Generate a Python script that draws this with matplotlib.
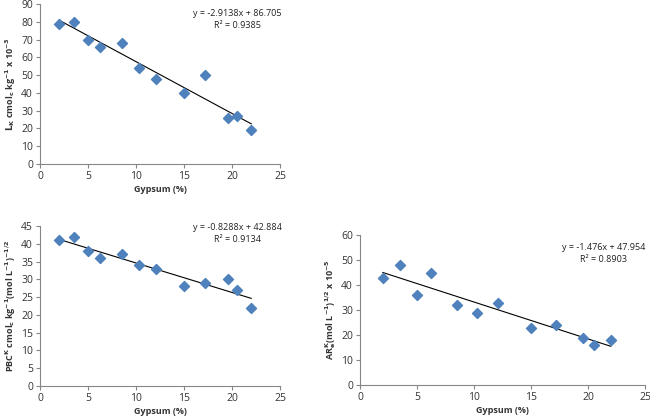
import matplotlib
matplotlib.use("Agg")
import matplotlib.pyplot as plt
import numpy as np

plt.rcParams['font.family'] = ['Open Sans', 'DejaVu Sans']

# data
gypsum = [2, 3.5, 5, 6.2, 8.5, 10.3, 12.1, 15, 17.2, 19.6, 20.5, 22]
lk = [79, 80, 70, 66, 68, 54, 48, 40, 50, 26, 27, 19]
pbc = [41, 42, 38, 36, 37, 34, 33, 28, 29, 30, 27, 22]
ar = [43, 48, 36, 45, 32, 29, 33, 23, 24, 19, 16, 18]

fits = [(-2.9138, 86.705, 0.9385), (-0.8288, 42.884, 0.9134), (-1.476, 47.954, 0.8903)]

color = '#4F81BD'
fig = plt.figure(figsize=(6.5, 4.2), dpi=100)

# axes in pixel positions (left, top, right, bottom)
boxes = [(40, 4, 280, 164), (40, 226, 280, 386), (360, 235, 645, 385)]
ylabels = [r'$\mathbf{L_K}$ cmol$_\mathbf{c}$ kg$^{\mathbf{-1}}$ x 10$^{\mathbf{-3}}$',
           r'PBC$^{\mathbf{K}}$ cmol$_\mathbf{c}$ kg$^{\mathbf{-1}}$(mol L$^{\mathbf{-1}}$)$^{\mathbf{-1/2}}$',
           r'AR$^{\mathbf{K}}_{\mathbf{e}}$(mol L$^{\mathbf{-1}}$)$^{\mathbf{1/2}}$ x 10$^{\mathbf{-5}}$']
ylims = [(0, 90, 10), (0, 45, 5), (0, 60, 10)]
series = [lk, pbc, ar]
eq_pos = [(237, 13), (237, 227), (604, 247)]

for i in range(3):
    l, t, r, b = boxes[i]
    ax = fig.add_axes([l / 650, 1 - b / 420, (r - l) / 650, (b - t) / 420])
    ax.scatter(gypsum, series[i], marker='D', s=26, color=color, zorder=3)
    m, c, r2 = fits[i]
    xs = np.array([2, 22])
    ax.plot(xs, m * xs + c, color='black', lw=0.8)
    ax.set_xlim(0, 25)
    ax.set_xticks(range(0, 26, 5))
    ax.set_ylim(ylims[i][0], ylims[i][1])
    ax.set_yticks(range(0, ylims[i][1] + 1, ylims[i][2]))
    for s in ['top', 'right']:
        ax.spines[s].set_visible(False)
    for s in ['left', 'bottom']:
        ax.spines[s].set_color('#868686')
        ax.spines[s].set_linewidth(0.8)
    ax.tick_params(labelsize=7.5, colors='#868686', labelcolor='#333333', length=3, width=0.8, pad=2)
    ax.set_xlabel('Gypsum (%)', fontsize=6.5, fontweight='bold', color='#333333', labelpad=2)
    ax.set_ylabel(ylabels[i], fontsize=6.5, fontweight='bold', color='#333333', labelpad=2)
    ex, ey = eq_pos[i]
    fig.text(ex / 650, 1 - ey / 420, 'y = %gx + %.3f' % (m, c),
             fontsize=6.5, ha='center', va='center', color='#222222')
    fig.text(ex / 650, 1 - (ey + 12) / 420, 'R² = %.4f' % r2,
             fontsize=6.5, ha='center', va='center', color='#222222')

plt.savefig('out.png', dpi=100)
